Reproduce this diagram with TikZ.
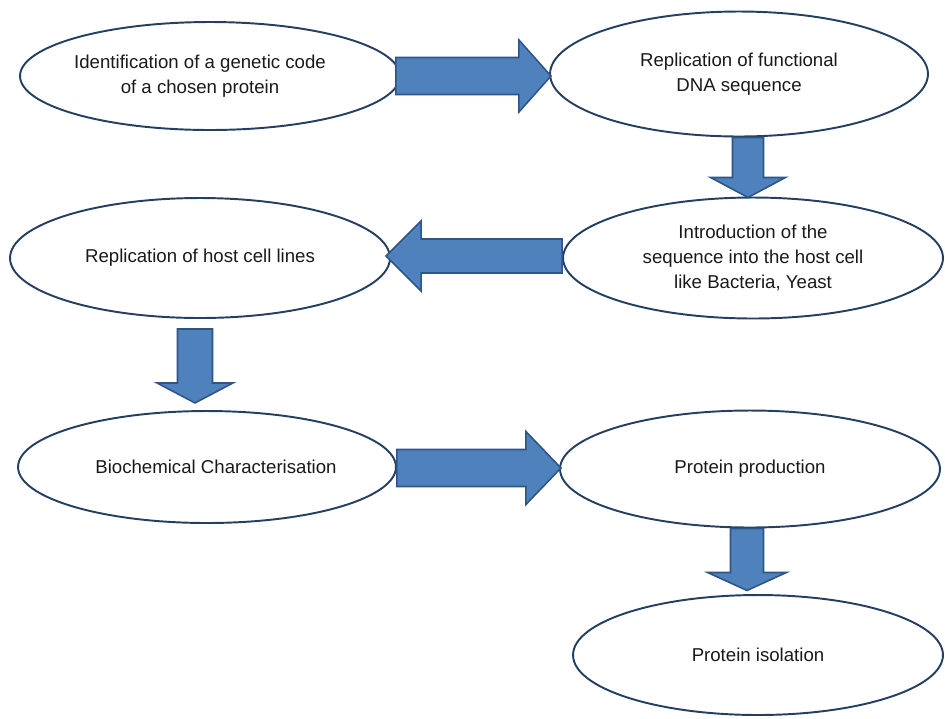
\documentclass[tikz,border=0pt]{standalone}
\usepackage{fontspec}
\setmainfont{Liberation Sans}
\usetikzlibrary{shapes.geometric,calc}

\definecolor{arrowblue}{HTML}{4F81BD}
\definecolor{arrowline}{HTML}{2E5586}
\definecolor{ovalline}{HTML}{243F60}

\tikzset{
  oval/.style={draw=ovalline, line width=1.1pt, ellipse, align=center, inner sep=0pt, text=black!90,
    font=\fontsize{10.6}{14.2}\selectfont},
  pics/bigarrow/.style n args={4}{code={
    \draw[fill=arrowblue, draw=arrowline, line width=0.9pt, line join=miter]
      (0,-#3) -- ({#1-#2},-#3) -- ({#1-#2},-#4) -- (#1,0) -- ({#1-#2},#4) -- ({#1-#2},#3) -- (0,#3) -- cycle;
  }}
}

\begin{document}
\begin{tikzpicture}[x=0.02cm, y=-0.02cm]
\useasboundingbox (0,0) rectangle (945,718);
\node[oval, minimum width=7.6cm, minimum height=2.16cm](e1) at (210,76){\hspace*{-0.4cm}Identification of a genetic code\\\hspace*{-0.4cm}of a chosen protein};
\node[oval, minimum width=7.56cm, minimum height=2.5cm](e2) at (739,74){Replication of functional\\DNA sequence};
\node[oval, minimum width=7.6cm, minimum height=2.4cm](e3) at (200,258){Replication of host cell lines};
\node[oval, minimum width=7.6cm, minimum height=2.42cm](e4) at (753,258){Introduction of the\\sequence into the host cell\\like Bacteria, Yeast};
\node[oval, minimum width=7.56cm, minimum height=2.24cm](e5) at (207,467){Biochemical Characterisation\hspace*{-0.36cm}};
\node[oval, minimum width=7.6cm, minimum height=2.34cm](e6) at (750,469){Protein production};
\node[oval, minimum width=7.4cm, minimum height=2.4cm](e7) at (758,655){Protein isolation};
% block arrows between the steps
\pic at ($(e1.east)+(-5,0)$) {bigarrow={155}{32}{18.5}{36}};
\pic[rotate=-90] at ($(e2.south)+(9,0)$) {bigarrow={60}{20}{15.5}{37.5}};
\pic[rotate=180] at ($(e4.west)+(0,-2)$) {bigarrow={176}{35}{17}{35}};
\pic[rotate=-90] at ($(e3.south)+(-5,10)$) {bigarrow={74}{20}{17.5}{38}};
\pic at ($(e5.east)+(0,1)$) {bigarrow={164}{35}{18.5}{36.5}};
\pic[rotate=-90] at ($(e6.south)+(-3,0)$) {bigarrow={62}{18}{16.5}{39.5}};
\end{tikzpicture}
\end{document}
